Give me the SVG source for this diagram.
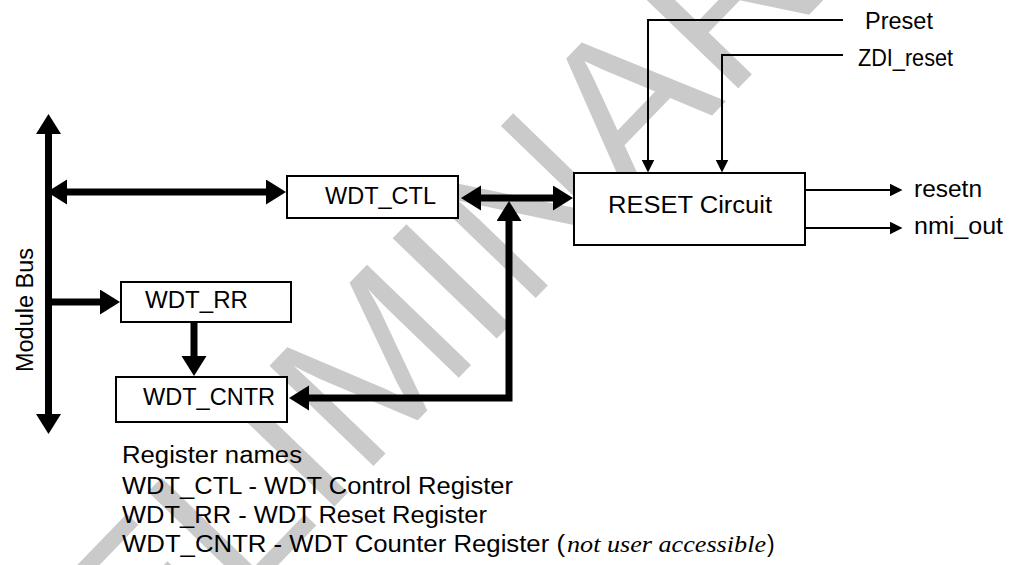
<svg xmlns="http://www.w3.org/2000/svg" width="1009" height="565" viewBox="0 0 1009 565">
<style>
.t{font-family:"Liberation Sans",Arial,sans-serif;font-size:23px;fill:#000}
.i{font-family:"Liberation Serif","Times New Roman",serif;font-style:italic;font-size:24px;fill:#000}
.box{fill:#fff;stroke:#000;stroke-width:2}
.thick{fill:none;stroke:#000;stroke-width:7}
.thin{fill:none;stroke:#000;stroke-width:2}
.wm{font-family:"Liberation Sans",Arial,sans-serif;font-size:210px;fill:#cacaca}
</style>
<defs>
<marker id="ah" markerUnits="userSpaceOnUse" markerWidth="22" markerHeight="26" refX="1" refY="12.5" orient="auto-start-reverse">
<path d="M0,0 L20,12.5 L0,25 z" fill="#000"/>
</marker>
<marker id="as" markerUnits="userSpaceOnUse" markerWidth="14" markerHeight="14" refX="0.5" refY="6.5" orient="auto-start-reverse">
<path d="M0,0 L13,6.5 L0,13 z" fill="#000"/>
</marker>
</defs>
<rect width="1009" height="565" fill="#fff"/>
<text class="wm" transform="translate(-60,915) rotate(-46)">PRELIMINARY</text>

<g id="connectors">
<line class="thick" x1="48.5" y1="133" x2="48.5" y2="415" marker-start="url(#ah)" marker-end="url(#ah)"/>
<line class="thick" x1="66" y1="192" x2="267" y2="192" marker-start="url(#ah)" marker-end="url(#ah)"/>
<line class="thick" x1="480" y1="198" x2="554" y2="198" marker-start="url(#ah)" marker-end="url(#ah)"/>
<polyline class="thick" points="308,398 509,398 509,220" marker-start="url(#ah)" marker-end="url(#ah)"/>
<line class="thick" x1="45" y1="302" x2="101" y2="302" marker-end="url(#ah)"/>
<line class="thick" x1="194" y1="322" x2="194" y2="357" marker-end="url(#ah)"/>
<polyline class="thin" points="843,20 648,20 648,160" marker-end="url(#as)"/>
<polyline class="thin" points="843,55 722,55 722,160" marker-end="url(#as)"/>
<line class="thin" x1="805" y1="190" x2="890" y2="190" marker-end="url(#as)"/>
<line class="thin" x1="805" y1="228" x2="890" y2="228" marker-end="url(#as)"/>
</g>

<g id="wdt_ctl">
<rect class="box" x="287" y="176" width="171" height="42"/>
<text class="t" x="325" y="204" textLength="111" lengthAdjust="spacingAndGlyphs">WDT_CTL</text>
</g>
<g id="reset_circuit">
<rect class="box" x="574" y="173" width="231" height="72"/>
<text class="t" x="608" y="213" textLength="164" lengthAdjust="spacingAndGlyphs">RESET Circuit</text>
</g>
<g id="wdt_rr">
<rect class="box" x="121" y="282" width="170" height="40"/>
<text class="t" x="145" y="308" textLength="103" lengthAdjust="spacingAndGlyphs">WDT_RR</text>
</g>
<g id="wdt_cntr">
<rect class="box" x="116" y="377" width="171" height="45"/>
<text class="t" x="143" y="405" textLength="132" lengthAdjust="spacingAndGlyphs">WDT_CNTR</text>
</g>
<g id="module_bus">
<text class="t" transform="translate(33,310) rotate(-90)" text-anchor="middle" textLength="124" lengthAdjust="spacingAndGlyphs">Module Bus</text>
</g>
<g id="signals">
<text class="t" x="865" y="29" textLength="68" lengthAdjust="spacingAndGlyphs">Preset</text>
<text class="t" x="858" y="66" textLength="95" lengthAdjust="spacingAndGlyphs">ZDI_reset</text>
<text class="t" x="914" y="197" textLength="68" lengthAdjust="spacingAndGlyphs">resetn</text>
<text class="t" x="914" y="234" textLength="89" lengthAdjust="spacingAndGlyphs">nmi_out</text>
</g>
<g id="legend">
<text class="t" x="122" y="463" textLength="180" lengthAdjust="spacingAndGlyphs">Register names</text>
<text class="t" x="122" y="494" textLength="391" lengthAdjust="spacingAndGlyphs">WDT_CTL - WDT Control Register</text>
<text class="t" x="122" y="523" textLength="365" lengthAdjust="spacingAndGlyphs">WDT_RR - WDT Reset Register</text>
<text class="t" x="122" y="552" textLength="443" lengthAdjust="spacingAndGlyphs">WDT_CNTR - WDT Counter Register (</text>
<text class="i" x="567" y="552" textLength="199" lengthAdjust="spacingAndGlyphs">not user accessible</text>
<text class="t" x="767" y="552">)</text>
</g>
</svg>
